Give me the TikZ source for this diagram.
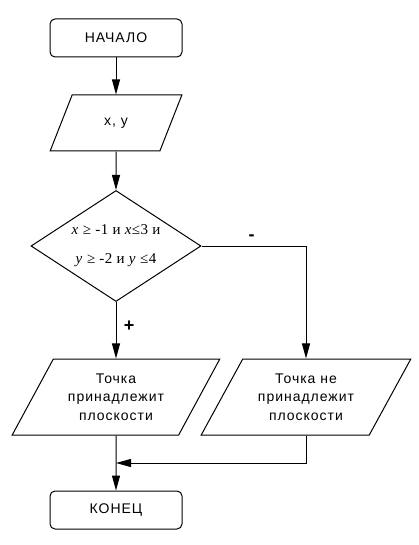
\documentclass[tikz,border=0pt]{standalone}
\usepackage{fontspec}
\setmainfont[LetterSpace=7]{Liberation Sans}
\newfontfamily\condfont[LetterSpace=3]{Liberation Serif}
\usetikzlibrary{shapes.geometric,arrows.meta}

\begin{document}
\begin{tikzpicture}[x=1pt, y=-1pt, line width=1pt,
  font=\fontsize{14}{18.5}\selectfont,
  term/.style={draw, rounded corners=5pt, minimum width=132pt, minimum height=38pt},
  io/.style={draw, trapezium, trapezium stretches=true, align=center, inner sep=0pt},
  sign/.style={font=\bfseries\fontsize{18}{20}\selectfont},
  arr/.style={-{Triangle[length=15pt,width=8pt]}}]
\useasboundingbox (0,0) rectangle (419,545);
\node[term] (start) at (116, 38) {НАЧАЛО};
\node[io, trapezium left angle=60, trapezium right angle=120, minimum width=132pt, minimum height=56pt] (input) at (116, 123) {x, y};
\node[draw, diamond, inner sep=0pt, aspect=1.53, minimum width=170pt, minimum height=111pt, align=center,
  font=\condfont\fontsize{15}{29}\selectfont] (cond) at (116, 246)
  {\textit{x} ≥ -1 и \textit{x}≤3 и\\ \textit{y} ≥ -2 и \textit{y} ≤4};
\node[io, trapezium left angle=56, trapezium right angle=124, minimum width=208pt, minimum height=76pt] (yes) at (116, 397) {Точка\\ принадлежит\\ плоскости};
\node[io, trapezium left angle=56, trapezium right angle=124, minimum width=210pt, minimum height=76pt] (no) at (306, 397) {Точка не\\ принадлежит\\ плоскости};
\node[term] (finish) at (116, 510) {КОНЕЦ};
\coordinate (merge) at (116, 463);

\draw[arr] (start) -- (input);
\draw[arr] (input) -- (cond);
\draw[arr] (cond) -- node[sign, right=4pt, pos=0.42] {+} (yes);
\draw[arr] (cond.east) -| node[sign, pos=0.24, above=2pt] {-} (no);
\draw[arr] (no) |- (merge);
\draw[arr] (yes) -- (finish);
\end{tikzpicture}
\end{document}
